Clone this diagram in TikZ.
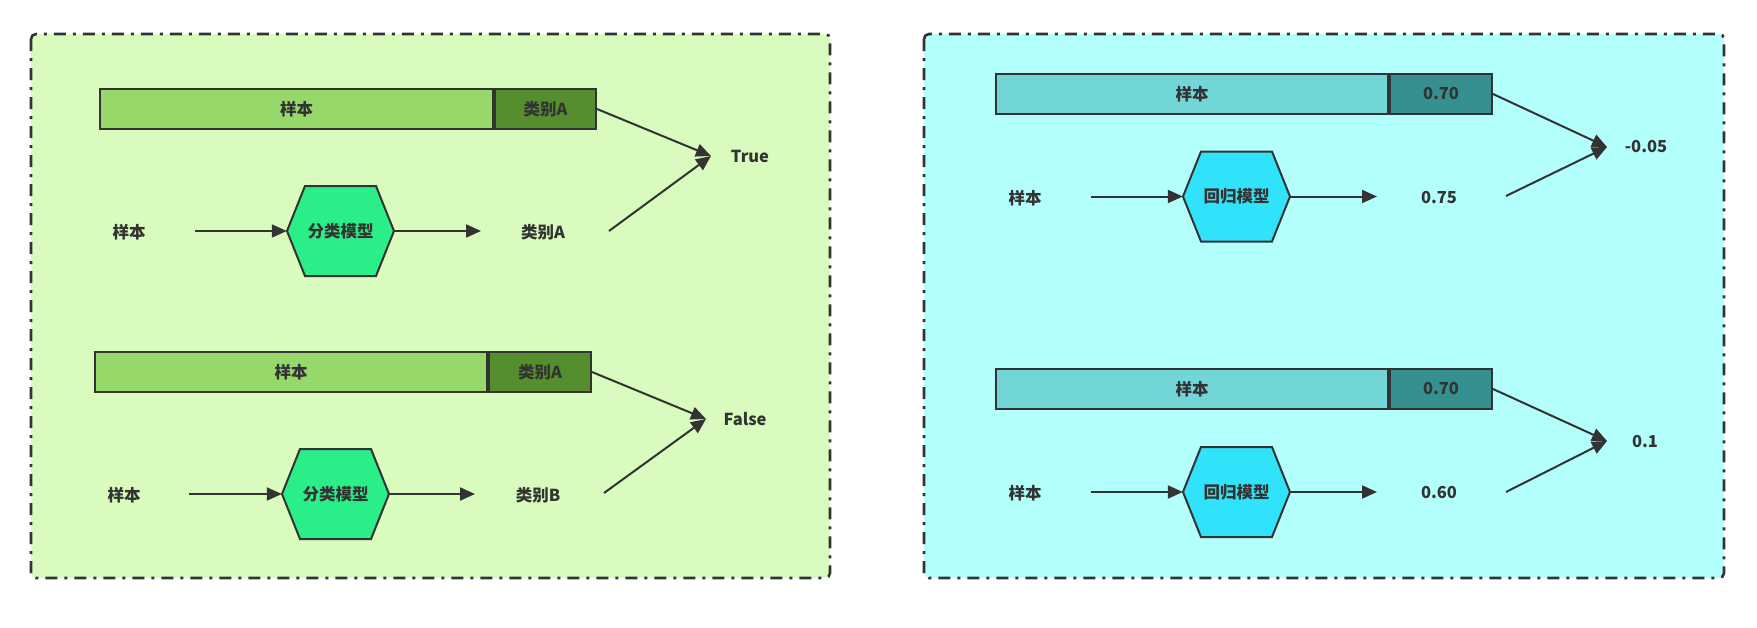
\documentclass[tikz,border=0pt]{standalone}
\usepackage{fontspec}
\setmainfont{Noto Sans CJK SC}
\usetikzlibrary{arrows.meta}
\definecolor{ink}{HTML}{333333}
\definecolor{gbg}{HTML}{D9FBBD}
\definecolor{glight}{HTML}{97D86A}
\definecolor{gdark}{HTML}{558E2E}
\definecolor{ghex}{HTML}{2AEE88}
\definecolor{cbg}{HTML}{B2FFFC}
\definecolor{clight}{HTML}{72D6D6}
\definecolor{cdark}{HTML}{35908F}
\definecolor{chex}{HTML}{31E3FA}
\tikzset{
  panel/.style={draw=ink, line width=2.6pt, rounded corners=5pt, dash pattern=on 12pt off 7pt on 3pt off 7pt},
  lbl/.style={font=\bfseries\fontsize{16.5}{18}\selectfont, text=ink, inner sep=0pt},
  barbox/.style={lbl, draw=ink, line width=2pt, minimum height=40pt, inner sep=0pt},
  hexbox/.style={lbl, minimum width=107pt, minimum height=90pt, inner sep=0pt},
  hexline/.style={draw=ink, line width=2pt, line join=miter},
  arr/.style={draw=ink, line width=2pt, -{Triangle[length=15pt,width=13pt]}},
}
\newcommand{\hexat}[2]{\path[hexline, fill=#2] (#1) ++(-53.5,0) -- ++(18,-45) -- ++(71,0) -- ++(18,45) -- ++(-18,45) -- ++(-71,0) -- cycle;}
\begin{document}
\begin{tikzpicture}[x=1pt,y=-1pt]
\useasboundingbox (0,0) rectangle (1757,627);
% panels
\path[panel, fill=gbg] (31,34) rectangle (830,578);
\path[panel, fill=cbg] (924,34) rectangle (1724,578);

% ===== left top =====
\node[barbox, fill=glight, minimum width=393pt] (b1) at (296.5,109) {样本};
\node[barbox, fill=gdark, minimum width=101pt, anchor=west] (d1) at (b1.east) {类别A};
\coordinate (c1) at (340.5,231);
\hexat{c1}{ghex}
\node[hexbox] (h1) at (c1) {分类模型};
\node[lbl] (s1) at (129,232) {样本};
\node[lbl] (o1) at (543,232) {类别A};
\coordinate (a1) at (195,231);
\coordinate (e1) at (481,231);
\coordinate (f1) at (609,231);
\coordinate (t1) at (711,156);
\node[lbl] (r1) at (750,156) {True};
\draw[arr] (a1) -- (h1.west);
\draw[arr] (h1.east) -- (e1);
\draw[arr] (d1.east) -- (t1);
\draw[arr] (f1) -- (t1);

% ===== left bottom =====
\node[barbox, fill=glight, minimum width=392pt] (b2) at (291,372) {样本};
\node[barbox, fill=gdark, minimum width=102pt, anchor=west] (d2) at (b2.east) {类别A};
\coordinate (c2) at (335.5,494);
\hexat{c2}{ghex}
\node[hexbox] (h2) at (c2) {分类模型};
\node[lbl] (s2) at (124,495) {样本};
\node[lbl] (o2) at (538,495) {类别B};
\coordinate (a2) at (189,494);
\coordinate (e2) at (475,494);
\coordinate (f2) at (604,493);
\coordinate (t2) at (706,419);
\node[lbl] (r2) at (745,419) {False};
\draw[arr] (a2) -- (h2.west);
\draw[arr] (h2.east) -- (e2);
\draw[arr] (d2.east) -- (t2);
\draw[arr] (f2) -- (t2);

% ===== right top =====
\node[barbox, fill=clight, minimum width=392pt] (b3) at (1192,94) {样本};
\node[barbox, fill=cdark, minimum width=102pt, anchor=west] (d3) at (b3.east) {0.70};
\coordinate (c3) at (1236.5,196.5);
\hexat{c3}{chex}
\node[hexbox] (h3) at (c3) {回归模型};
\node[lbl] (s3) at (1025,198) {样本};
\node[lbl] (o3) at (1439,198) {0.75};
\coordinate (a3) at (1091,196.5);
\coordinate (e3) at (1377,196.5);
\coordinate (f3) at (1506,196);
\coordinate (t3) at (1607,147);
\node[lbl] (r3) at (1646,147) {-0.05};
\draw[arr] (a3) -- (h3.west);
\draw[arr] (h3.east) -- (e3);
\draw[arr] (d3.east) -- (t3);
\draw[arr] (f3) -- (t3);

% ===== right bottom =====
\node[barbox, fill=clight, minimum width=392pt] (b4) at (1192,389) {样本};
\node[barbox, fill=cdark, minimum width=102pt, anchor=west] (d4) at (b4.east) {0.70};
\coordinate (c4) at (1236.5,492);
\hexat{c4}{chex}
\node[hexbox] (h4) at (c4) {回归模型};
\node[lbl] (s4) at (1025,493) {样本};
\node[lbl] (o4) at (1439,493) {0.60};
\coordinate (a4) at (1091,492);
\coordinate (e4) at (1377,492);
\coordinate (f4) at (1506,492);
\coordinate (t4) at (1607,441);
\node[lbl] (r4) at (1645,442) {0.1};
\draw[arr] (a4) -- (h4.west);
\draw[arr] (h4.east) -- (e4);
\draw[arr] (d4.east) -- (t4);
\draw[arr] (f4) -- (t4);
\end{tikzpicture}
\end{document}
